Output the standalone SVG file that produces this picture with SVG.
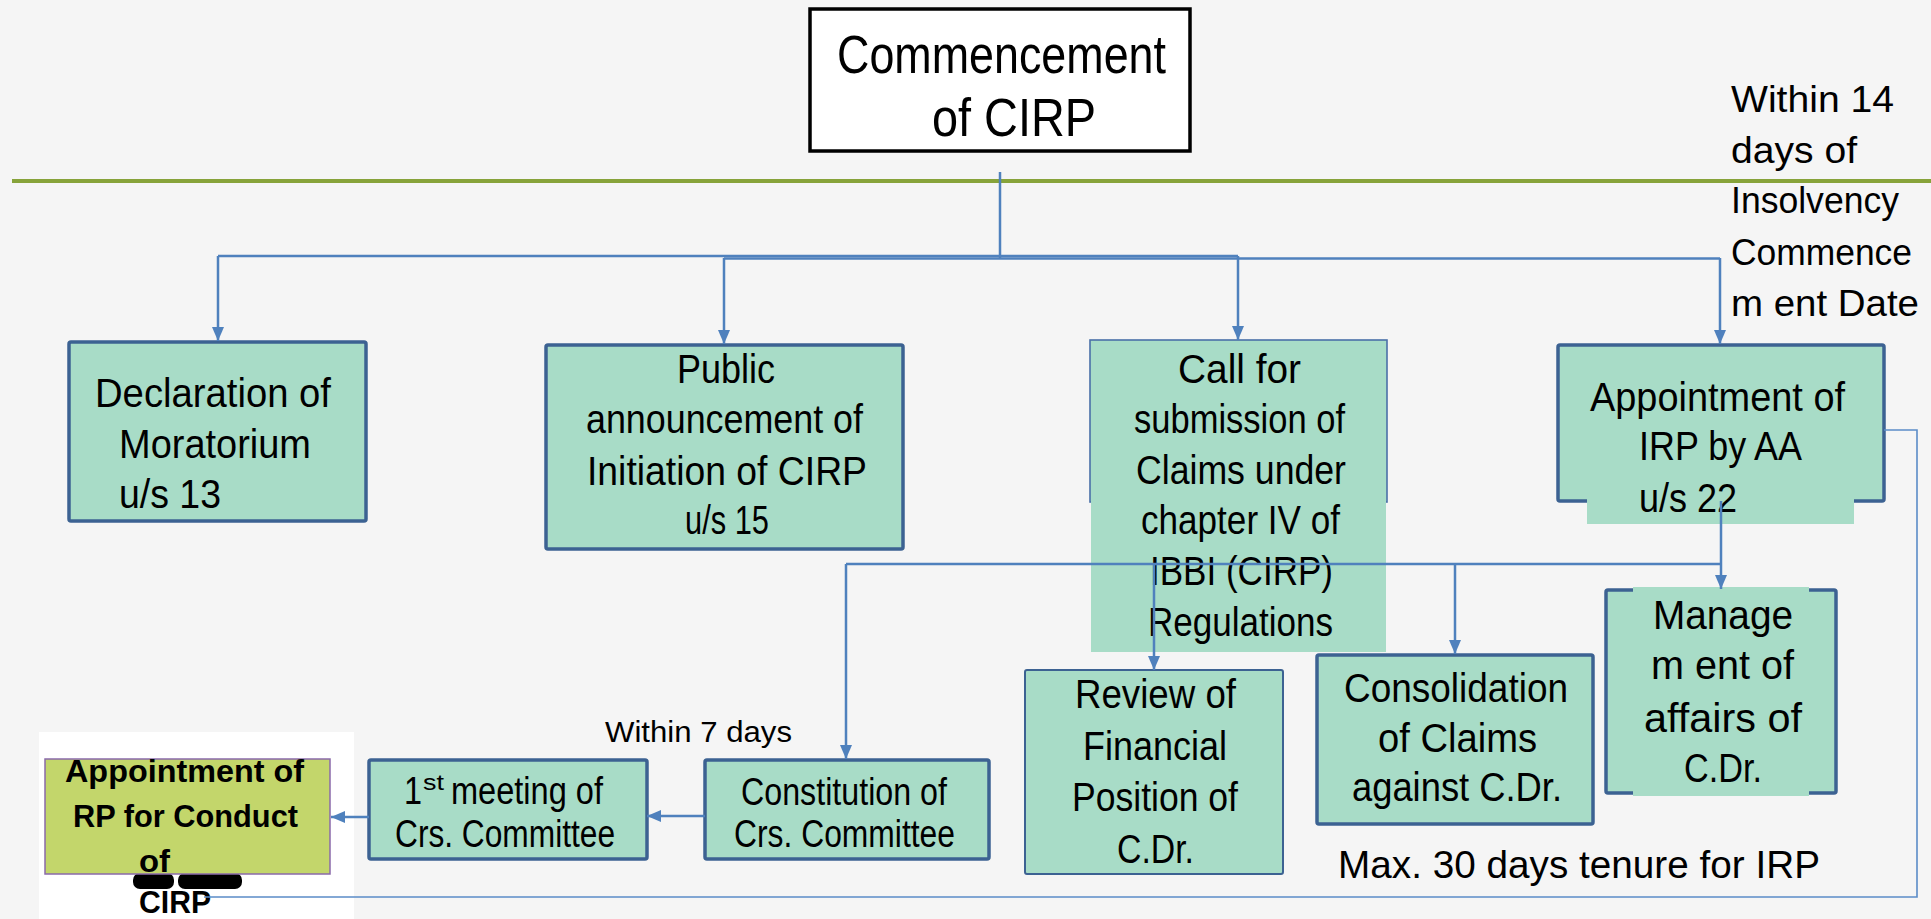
<svg xmlns="http://www.w3.org/2000/svg" width="1931" height="919" viewBox="0 0 1931 919">
<defs>
<marker id="arr" viewBox="0 0 14 12" refX="14" refY="6" markerWidth="14" markerHeight="12" orient="auto" markerUnits="userSpaceOnUse">
<path d="M0,0 L14,6 L0,12 z" fill="#4f81bd"/>
</marker>
<style>
.t{font-family:"Liberation Sans",Arial,sans-serif;fill:#000;}
.bx{fill:#a8dcc7;stroke:#3c6292;stroke-width:3.5;}
.bxt{fill:#a8dcc7;stroke:#3c6292;stroke-width:2;}
.fl{fill:#a8dcc7;stroke:none;}
.cn{fill:none;stroke:#4f81bd;stroke-width:2.5;}
.cnt{fill:none;stroke:#5b8cc8;stroke-width:1.6;}
.b{font-family:"Liberation Sans",Arial,sans-serif;font-weight:bold;fill:#000;}
</style>
</defs>
<rect x="0" y="0" width="1931" height="919" fill="#f5f5f5"/>
<line x1="12" y1="181" x2="1931" y2="181" stroke="#87a33a" stroke-width="4"/>

<g id="commencement">
<rect x="810" y="9" width="380" height="142" fill="#ffffff" stroke="#000" stroke-width="3.5"/>
<text class="t" x="837" y="73" font-size="53" textLength="329" lengthAdjust="spacingAndGlyphs">Commencement</text>
<text class="t" x="932" y="136" font-size="53" textLength="164" lengthAdjust="spacingAndGlyphs">of CIRP</text>
</g>

<g id="within14">
<text class="t" x="1731" y="112" font-size="37" textLength="163" lengthAdjust="spacingAndGlyphs">Within 14</text>
<text class="t" x="1731" y="163" font-size="37" textLength="126" lengthAdjust="spacingAndGlyphs">days of</text>
<text class="t" x="1731" y="213" font-size="37" textLength="168" lengthAdjust="spacingAndGlyphs">Insolvency</text>
<text class="t" x="1731" y="265" font-size="37" textLength="181" lengthAdjust="spacingAndGlyphs">Commence</text>
<text class="t" x="1731" y="316" font-size="37" textLength="188" lengthAdjust="spacingAndGlyphs">m ent Date</text>
</g>

<g id="moratorium">
<rect class="bx" x="69" y="342" width="297" height="179" rx="2"/>
<text class="t" x="95" y="407" font-size="41" textLength="236" lengthAdjust="spacingAndGlyphs">Declaration of</text>
<text class="t" x="119" y="458" font-size="41" textLength="192" lengthAdjust="spacingAndGlyphs">Moratorium</text>
<text class="t" x="119" y="508" font-size="41" textLength="102" lengthAdjust="spacingAndGlyphs">u/s 13</text>
</g>

<g id="public">
<rect class="bx" x="546" y="345" width="357" height="204" rx="2"/>
<text class="t" x="677" y="383" font-size="40" textLength="98" lengthAdjust="spacingAndGlyphs">Public</text>
<text class="t" x="586" y="433" font-size="40" textLength="277" lengthAdjust="spacingAndGlyphs">announcement of</text>
<text class="t" x="587" y="485" font-size="40" textLength="280" lengthAdjust="spacingAndGlyphs">Initiation of  CIRP</text>
<text class="t" x="685" y="534" font-size="40" textLength="84" lengthAdjust="spacingAndGlyphs">u/s 15</text>
</g>

<g id="claims">
<rect x="1090" y="340" width="297" height="162" fill="#a8dcc7" stroke="#4a70a8" stroke-width="1.6"/>
<rect class="fl" x="1091" y="498" width="295" height="154"/>
<text class="t" x="1178" y="383" font-size="40" textLength="123" lengthAdjust="spacingAndGlyphs">Call for</text>
<text class="t" x="1134" y="433" font-size="40" textLength="211" lengthAdjust="spacingAndGlyphs">submission of</text>
<text class="t" x="1136" y="484" font-size="40" textLength="210" lengthAdjust="spacingAndGlyphs">Claims under</text>
<text class="t" x="1141" y="534" font-size="40" textLength="199" lengthAdjust="spacingAndGlyphs">chapter IV of</text>
<text class="t" x="1150" y="585" font-size="40" textLength="183" lengthAdjust="spacingAndGlyphs">IBBI (CIRP)</text>
<text class="t" x="1148" y="636" font-size="40" textLength="185" lengthAdjust="spacingAndGlyphs">Regulations</text>
</g>

<g id="irp">
<rect class="bx" x="1558" y="345" width="326" height="156" rx="2"/>
<rect class="fl" x="1587" y="495" width="267" height="29"/>
<text class="t" x="1590" y="411" font-size="40" textLength="255" lengthAdjust="spacingAndGlyphs">Appointment of</text>
<text class="t" x="1639" y="460" font-size="40" textLength="163" lengthAdjust="spacingAndGlyphs">IRP by AA</text>
<text class="t" x="1639" y="512" font-size="40" textLength="98" lengthAdjust="spacingAndGlyphs">u/s 22</text>
</g>

<g id="review">
<rect class="bxt" x="1025" y="670" width="258" height="204" rx="2"/>
<text class="t" x="1075" y="708" font-size="40" textLength="161" lengthAdjust="spacingAndGlyphs">Review of</text>
<text class="t" x="1083" y="760" font-size="40" textLength="144" lengthAdjust="spacingAndGlyphs">Financial</text>
<text class="t" x="1072" y="811" font-size="40" textLength="166" lengthAdjust="spacingAndGlyphs">Position of</text>
<text class="t" x="1117" y="863" font-size="40" textLength="77" lengthAdjust="spacingAndGlyphs">C.Dr.</text>
</g>

<g id="consolidation">
<rect class="bx" x="1317" y="655" width="276" height="169" rx="2"/>
<text class="t" x="1344" y="702" font-size="40" textLength="224" lengthAdjust="spacingAndGlyphs">Consolidation</text>
<text class="t" x="1378" y="752" font-size="40" textLength="159" lengthAdjust="spacingAndGlyphs">of Claims</text>
<text class="t" x="1352" y="801" font-size="40" textLength="210" lengthAdjust="spacingAndGlyphs">against C.Dr.</text>
</g>

<g id="management">
<rect class="bx" x="1606" y="590" width="230" height="203" rx="2"/>
<rect class="fl" x="1633" y="587" width="176" height="209"/>
<text class="t" x="1653" y="629" font-size="41" textLength="140" lengthAdjust="spacingAndGlyphs">Manage</text>
<text class="t" x="1651" y="679" font-size="41" textLength="143" lengthAdjust="spacingAndGlyphs">m  ent of</text>
<text class="t" x="1644" y="732" font-size="41" textLength="158" lengthAdjust="spacingAndGlyphs">affairs of</text>
<text class="t" x="1684" y="782" font-size="41" textLength="78" lengthAdjust="spacingAndGlyphs">C.Dr.</text>
</g>

<g id="constitution">
<rect class="bx" x="705" y="760" width="284" height="99" rx="2"/>
<text class="t" x="741" y="805" font-size="38" textLength="206" lengthAdjust="spacingAndGlyphs">Constitution of</text>
<text class="t" x="734" y="847" font-size="38" textLength="221" lengthAdjust="spacingAndGlyphs">Crs. Committee</text>
</g>

<g id="firstmeeting">
<rect class="bx" x="369" y="760" width="278" height="99" rx="2"/>
<text class="t" x="404" y="804" font-size="38" textLength="18" lengthAdjust="spacingAndGlyphs">1</text>
<text class="t" x="423" y="790" font-size="22" textLength="21" lengthAdjust="spacingAndGlyphs">st</text>
<text class="t" x="451" y="804" font-size="38" textLength="152" lengthAdjust="spacingAndGlyphs">meeting of</text>
<text class="t" x="395" y="847" font-size="38" textLength="220" lengthAdjust="spacingAndGlyphs">Crs. Committee</text>
</g>

<g id="rp">
<rect x="39" y="732" width="315" height="187" fill="#ffffff"/>
<rect x="133" y="873" width="41" height="16" rx="7" fill="#000"/>
<rect x="178" y="873" width="64" height="16" rx="7" fill="#000"/>
<rect x="45" y="759" width="285" height="115" fill="#c3d66b" stroke="#8a6aaa" stroke-width="1.5"/>
<text class="b" x="65" y="782" font-size="32" textLength="239" lengthAdjust="spacingAndGlyphs">Appointment of</text>
<text class="b" x="73" y="827" font-size="32" textLength="225" lengthAdjust="spacingAndGlyphs">RP for Conduct</text>
<text class="b" x="139" y="872" font-size="32" textLength="31" lengthAdjust="spacingAndGlyphs">of</text>
<text class="b" x="139" y="913" font-size="31" textLength="72" lengthAdjust="spacingAndGlyphs">CIRP</text>
</g>

<g id="labels">
<text class="t" x="605" y="742" font-size="30" textLength="187" lengthAdjust="spacingAndGlyphs">Within 7 days</text>
<text class="t" x="1338" y="878" font-size="39" textLength="482" lengthAdjust="spacingAndGlyphs">Max. 30 days tenure for  IRP</text>
</g>

<g id="connectors">
<line class="cn" x1="1000" y1="172" x2="1000" y2="258"/>
<line class="cn" x1="218" y1="256" x2="1238" y2="256" stroke="#6b98d0"/>
<line class="cn" x1="724" y1="258.5" x2="1720" y2="258.5"/>
<path class="cn" d="M218,256 V341" marker-end="url(#arr)"/>
<path class="cn" d="M724,258 V344" marker-end="url(#arr)"/>
<path class="cn" d="M1238,256 V340" marker-end="url(#arr)"/>
<path class="cn" d="M1720,258 V344" marker-end="url(#arr)"/>
<path class="cn" d="M1721,501 V589" marker-end="url(#arr)"/>
<line class="cn" x1="846" y1="564" x2="1721" y2="564"/>
<path class="cn" d="M846,564 V759" marker-end="url(#arr)"/>
<path class="cn" d="M1455,564 V654" marker-end="url(#arr)"/>
<path class="cn" d="M1154,564 V670" marker-end="url(#arr)"/>
<path class="cn" d="M705,816 H647" marker-end="url(#arr)"/>
<path class="cn" d="M369,817 H331" marker-end="url(#arr)"/>
<path class="cnt" d="M1884,430 H1917 V897 H204"/>
</g>
</svg>
